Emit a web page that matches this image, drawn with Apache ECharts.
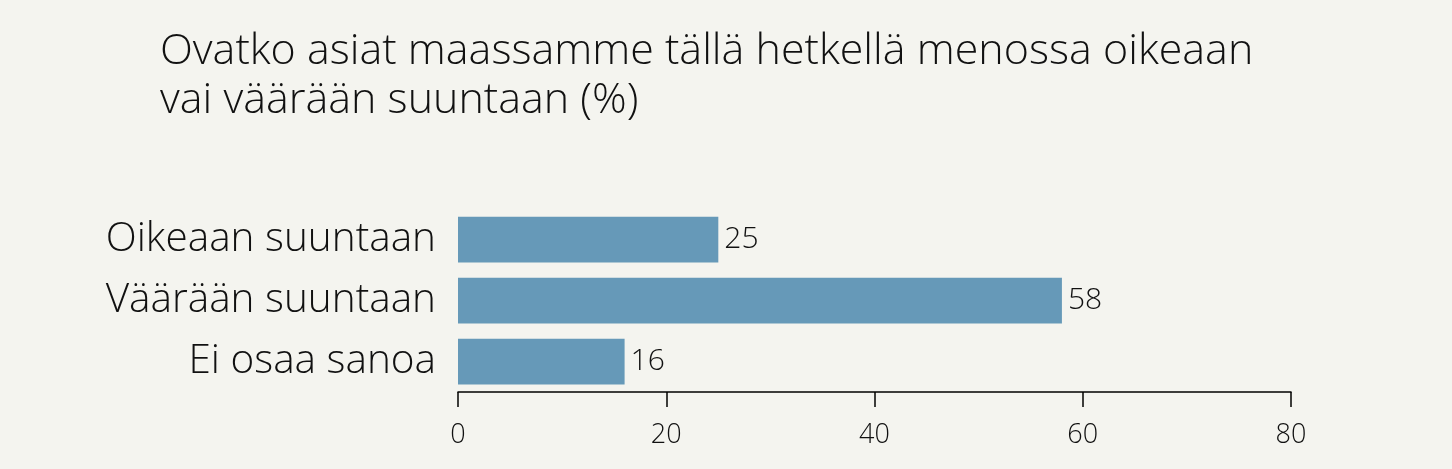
<!DOCTYPE html>
<html>
<head>
<meta charset="utf-8">
<script src="https://cdn.jsdelivr.net/npm/echarts@6/dist/echarts.min.js"></script>
<style>
html,body{margin:0;padding:0;background:#f4f4ef;}
#chart{width:1452px;height:469px;}
</style>
</head>
<body>
<div id="chart"></div>
<script>
const titleText = 'Ovatko asiat maassamme tällä hetkellä menossa oikeaan\nvai väärään suuntaan (%)';
const categories = ['Oikeaan suuntaan', 'Väärään suuntaan', 'Ei osaa sanoa'];
const values = [25, 58, 16];
const tickValues = [0, 20, 40, 60, 80];

const FONT = '"Open Sans", "Noto Sans", sans-serif';
const chart = echarts.init(document.getElementById('chart'));
chart.setOption({
  backgroundColor: '#f4f4ef',
  animation: false,
  textStyle: { fontFamily: FONT },
  title: {
    text: titleText,
    left: 155,
    top: 22,
    textStyle: { fontFamily: FONT, fontWeight: 300, fontSize: 43, lineHeight: 49, color: '#111' }
  },
  grid: { left: 458, right: 161, top: 209, bottom: 77 },
  xAxis: {
    type: 'value',
    min: tickValues[0],
    max: tickValues[tickValues.length - 1],
    interval: 20,
    axisLine: { show: true, lineStyle: { color: '#000', width: 1.5 } },
    axisTick: { show: true, length: 15, lineStyle: { color: '#000', width: 1.5 } },
    splitLine: { show: false },
    axisLabel: { fontFamily: FONT, fontWeight: 300, fontSize: 27, color: '#111', margin: 30 }
  },
  yAxis: {
    type: 'category',
    inverse: true,
    data: categories,
    axisLine: { show: false },
    axisTick: { show: false },
    axisLabel: { fontFamily: FONT, fontWeight: 300, fontSize: 40.5, color: '#111', margin: 22 }
  },
  series: [{
    type: 'bar',
    data: values,
    barCategoryGap: '25%',
    itemStyle: { color: '#6699b8' },
    label: {
      show: true,
      position: 'right',
      distance: 6,
      fontFamily: FONT,
      fontWeight: 300,
      fontSize: 30,
      color: '#111'
    }
  }]
});
</script>
</body>
</html>
